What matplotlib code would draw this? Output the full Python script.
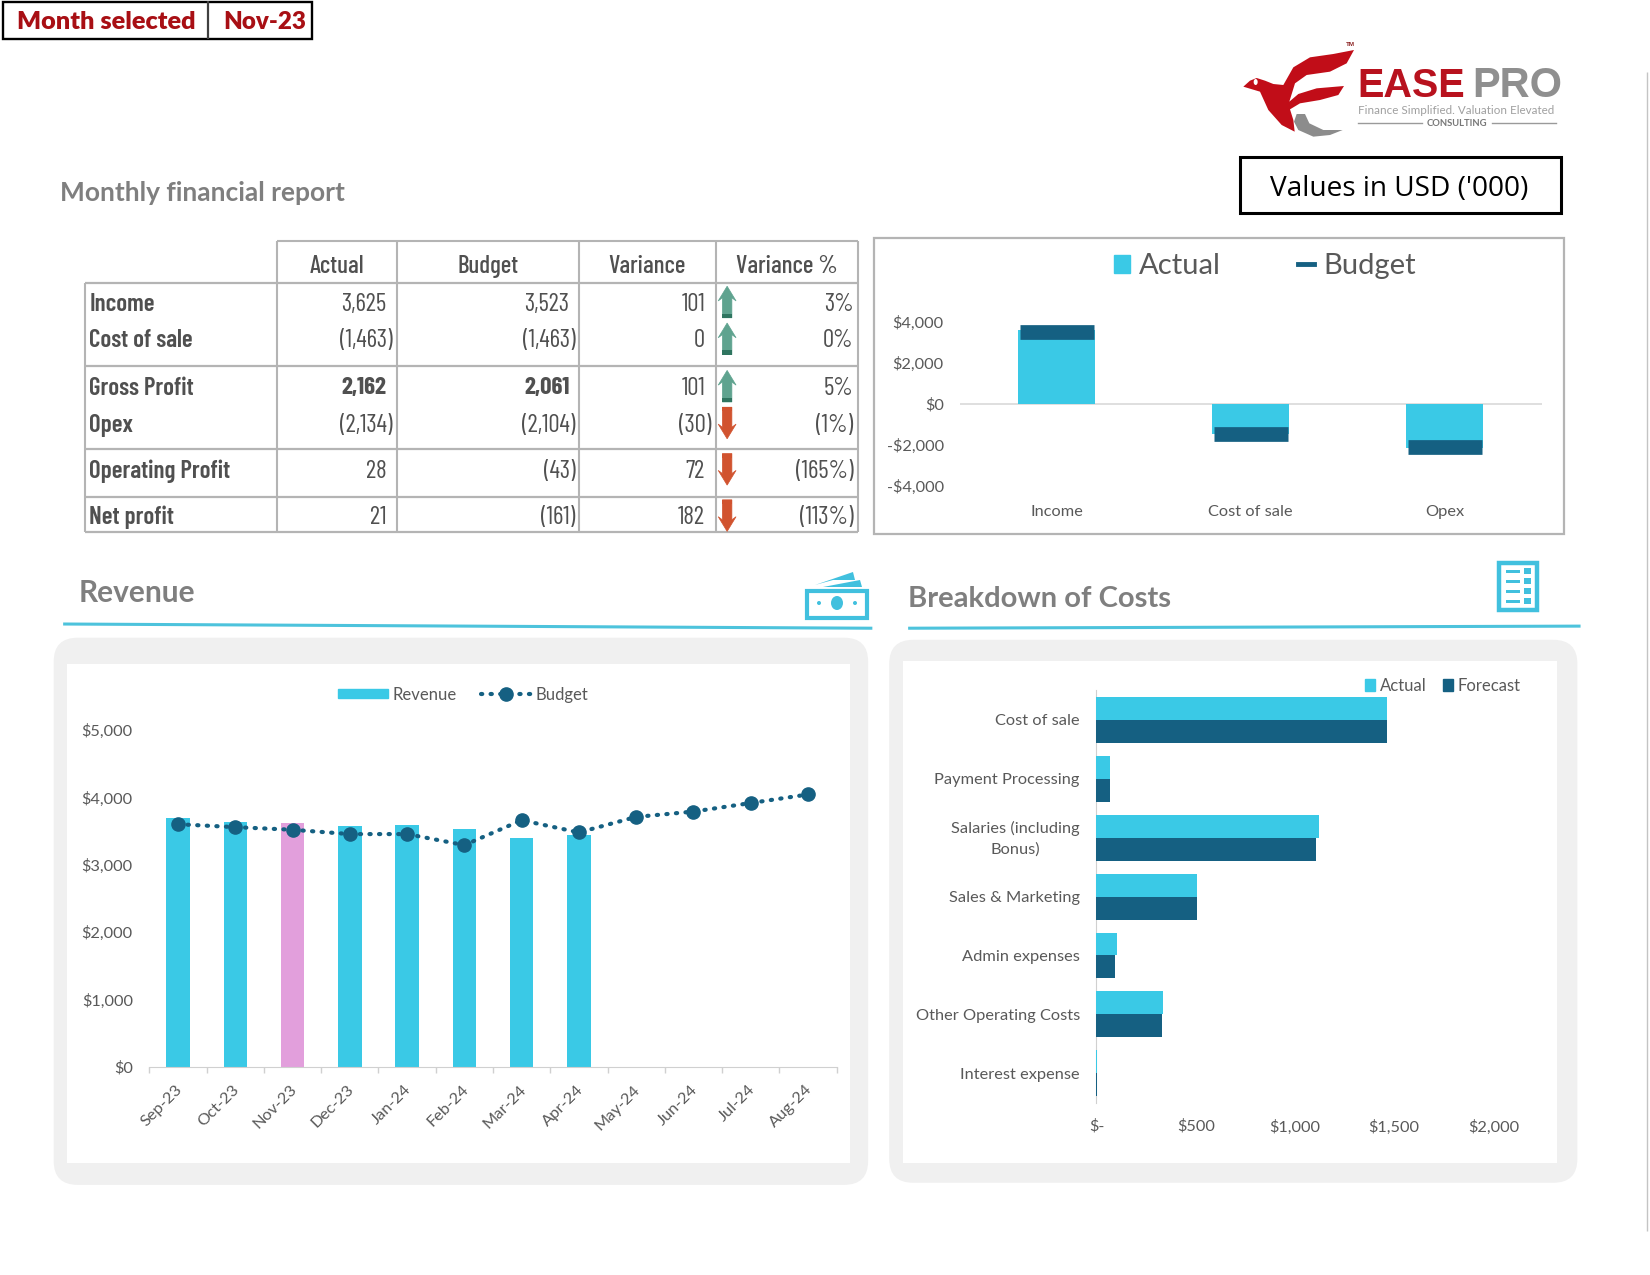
import matplotlib
matplotlib.use('Agg')
import matplotlib.pyplot as plt
from matplotlib.patches import FancyBboxPatch, Polygon, Rectangle, Ellipse, Patch
from matplotlib.lines import Line2D
from matplotlib.ticker import FixedLocator, FuncFormatter
from matplotlib.transforms import ScaledTranslation

# table
row_names = ['Income', 'Cost of sale', 'Gross Profit', 'Opex', 'Operating Profit', 'Net profit']
col_names = ['Actual', 'Budget', 'Variance', 'Variance %']
tbl_actual = ['3,625', '(1,463)', '2,162', '(2,134)', '28', '21']
tbl_budget = ['3,523', '(1,463)', '2,061', '(2,104)', '(43)', '(161)']
tbl_var = ['101', '0', '101', '(30)', '72', '182']
tbl_pct = ['3%', '0%', '5%', '(1%)', '(165%)', '(113%)']
tbl_up = [True, True, True, False, False, False]

# top right chart
summary_cats = ['Income', 'Cost of sale', 'Opex']
summary_actual = [3625, -1463, -2134]
summary_budget = [3523, -1463, -2104]
summary_ticks = [-4000, -2000, 0, 2000, 4000]

# revenue chart
months = ['Sep-23', 'Oct-23', 'Nov-23', 'Dec-23', 'Jan-24', 'Feb-24',
          'Mar-24', 'Apr-24', 'May-24', 'Jun-24', 'Jul-24', 'Aug-24']
revenue = [3695, 3635, 3625, 3574, 3598, 3532, 3398, 3440]
budget = [3605, 3562, 3523, 3459, 3459, 3295, 3665, 3483, 3714, 3793, 3920, 4047]
selected = 'Nov-23'

# costs chart
cost_cats = ['Cost of sale', 'Payment Processing', 'Salaries (including\nBonus)', 'Sales & Marketing',
             'Admin expenses', 'Other Operating Costs', 'Interest expense']
cost_actual = [1463, 69, 1119, 504, 103, 334, 5]
cost_forecast = [1463, 69, 1108, 504, 91, 331, 1]

CYAN = '#3AC9E6'
DARK = '#156082'
PINK = '#E29FDC'
GREY = '#595959'
LINE = '#B4B4B4'
RED = '#A80F14'
FONT = 'Lato'
NARROW = ['Barlow Condensed', 'Lato']
DOTS = (0, (0.3, 2.0))

W, H = 1650, 1275
S = 1650 / 1568  # I measured everything on a 1568 wide view

fig = plt.figure(figsize=(W / 100, H / 100), dpi=100)
bg = fig.add_axes([0, 0, 1, 1])
bg.set_xlim(0, W)
bg.set_ylim(H, 0)
bg.axis('off')


def chart_axes(l, t, r, b):
    ax = fig.add_axes([l * S / W, 1 - b * S / H, (r - l) * S / W, (b - t) * S / H])
    ax.patch.set_alpha(0)
    for s in ax.spines.values():
        s.set_visible(False)
    return ax


def fig_xy(x, y):
    return (x * S / W, 1 - y * S / H)


def box(l, t, r, b, ec, lw, fc='none', z=1):
    bg.add_patch(Rectangle((l * S, t * S), (r - l) * S, (b - t) * S, fc=fc, ec=ec, lw=lw, zorder=z))


def seg(x0, y0, x1, y1, c, lw):
    bg.plot([x0 * S, x1 * S], [y0 * S, y1 * S], color=c, lw=lw, solid_capstyle='butt')


def txt(x, y, s, **kw):
    kw.setdefault('va', 'center')
    kw.setdefault('family', FONT)
    bg.text(x * S, y * S, s, **kw)


def panel(l, t, r, b, il, it, ir, ib):
    bg.add_patch(FancyBboxPatch((l * S, t * S), (r - l) * S, (b - t) * S,
                                boxstyle='round,pad=0,rounding_size=24', fc='#F0F0F0', ec='none'))
    box(il, it, ir, ib, 'none', 0, fc='white', z=2)


def arrow(cx, cy, up, c, dark):
    d = 1 if up else -1
    pts = [(0, -15), (8.5, -1), (4.5, -4), (4.5, 15), (-4.5, 15), (-4.5, -4), (-8.5, -1)]
    bg.add_patch(Polygon([((cx + x) * S, (cy + d * y) * S) for x, y in pts], fc=c, ec=c, lw=0.5, zorder=3))
    ys = [(cy + d * 11) * S, (cy + d * 15) * S]
    bg.add_patch(Polygon([((cx - 4.5) * S, ys[0]), ((cx + 4.5) * S, ys[0]), ((cx + 4.5) * S, ys[1]), ((cx - 4.5) * S, ys[1])],
                         fc=dark, ec='none', zorder=4))


# month selector
box(2.5, 1.5, 296.5, 37, 'black', 1.7)
seg(198, 1, 198, 37, '#404040', 1.6)
txt(101, 21, 'Month selected', color=RED, fontsize=18.2, fontweight='heavy', ha='center')
txt(252, 21, 'Nov-23', color=RED, fontsize=17.4, fontweight='heavy', ha='center')

# logo, drawn by hand from the crop
def lg(pts):
    return [(1150 + x / 3, 20 + y / 3) for x, y in pts]


bg.add_patch(Polygon(lg([(280, 200), (300, 182), (320, 174), (345, 182), (370, 192), (400, 195), (430, 142),
                         (480, 112), (550, 102), (612, 90), (590, 130), (540, 155), (470, 165), (435, 190),
                         (418, 245), (445, 222), (500, 205), (582, 198), (565, 225), (510, 240), (450, 250),
                         (420, 268), (430, 300), (434, 335), (395, 315), (355, 270), (330, 215)]),
                     fc='#C10D18', ec='none'))
bg.add_patch(Polygon(lg([(440, 282), (465, 282), (478, 310), (520, 330), (578, 330), (540, 345), (490, 350),
                         (445, 330), (432, 305)]), fc='#8C8C8C', ec='none'))
bg.add_patch(Ellipse((1150 + 317 / 3, 20 + 186 / 3), 4, 6, fc='white', ec='none'))
bg.text(1350, 45, 'TM', fontsize=4.5, fontweight='bold', color='#8A2020', ha='center', va='center', family='Liberation Sans')
bg.text(1357, 97, 'EASE', fontsize=28.5, fontweight='bold', color='#B8121E', va='baseline', family='Liberation Sans')
bg.text(1472, 97, 'PRO', fontsize=30, fontweight='bold', color='#8F8F8F', va='baseline', family='Liberation Sans')
bg.text(1358, 111, 'Finance Simplified. Valuation Elevated', fontsize=8.4, color='#A0A0A0', va='center', family='Lato')
bg.text(1457, 123, 'CONSULTING', fontsize=6.8, fontweight='bold', color='#777777', ha='center', va='center', family='Lato')
bg.plot([1358, 1422], [123, 123], color='#9A9A9A', lw=1)
bg.plot([1492, 1556], [123, 123], color='#9A9A9A', lw=1)

box(1178, 149, 1483, 202, 'black', 2.2)
txt(1330, 180, "Values in USD ('000)", ha='center', fontsize=20.2, family='Open Sans', color='black')
txt(57, 183, 'Monthly financial report', fontsize=19, fontweight='bold', color='#7F7F7F')

# table
cols = [81, 263, 377, 550, 680, 815]
hlines = [269, 348, 427, 472, 506]
row_y = [289, 324, 369, 404, 448, 492]
seg(263, 229, 815, 229, LINE, 1.5)
for y in hlines:
    seg(81, y, 815, y, LINE, 1.6)
for i, x in enumerate(cols):
    seg(x, 229 if i else 269, x, 506, LINE, 1.5)
for i, name in enumerate(col_names):
    txt((cols[i + 1] + cols[i + 2]) / 2, 253, name, ha='center', fontsize=18, family=NARROW,
        color='#505050', fontweight='medium')
cell_right = [367, 541, 670, 811]
for i, name in enumerate(row_names):
    y = row_y[i]
    txt(85, y, name, fontsize=18, family=NARROW, color='#505050', fontweight='semibold')
    for j, vals in enumerate([tbl_actual, tbl_budget, tbl_var]):
        v = vals[i]
        x = cell_right[j] + (6 if v.endswith(')') else 0)
        weight = 'bold' if i == 2 and j < 2 else 'normal'
        txt(x, y, v, ha='right', fontsize=18, family=NARROW, color='#505050', fontweight=weight)
    txt(cell_right[3], y, tbl_pct[i], ha='right', fontsize=18, family=NARROW, color='#505050')
    if tbl_up[i]:
        arrow(691, y - 2, True, '#5FA38F', '#2F7560')
    else:
        arrow(691, y - 2, False, '#D1532F', '#D1532F')

# top right chart
box(831, 226, 1486, 507, LINE, 1.6)
ax = chart_axes(912, 306, 1465, 462)
xs = list(range(len(summary_cats)))
ax.bar(xs, summary_actual, width=0.396, color=CYAN, label='Actual')
ax.plot(xs, summary_budget, ls='none', marker='_', ms=53, mew=10.6, color=DARK, label='Budget')
ax.set_xlim(-0.5, 2.5)
ax.set_ylim(-4000, 4000)
ax.axhline(0, color='#D9D9D9', lw=1.2, zorder=0)
ax.set_yticks(summary_ticks)
ax.set_yticklabels(['-$4,000', '-$2,000', '$0', '$2,000', '$4,000'])
ax.set_xticks(xs)
ax.set_xticklabels(summary_cats)
ax.tick_params(length=0, labelcolor=GREY, labelsize=11.8)
ax.tick_params(axis='x', pad=13.5)
ax.tick_params(axis='y', pad=11.5)
for t in ax.get_xticklabels() + ax.get_yticklabels():
    t.set_family(FONT)
handles = [Patch(color=CYAN, label='Actual'),
           Line2D([], [], color=DARK, lw=3.5, label='Budget')]
fig.legend(handles=handles, loc='center', bbox_to_anchor=fig_xy(1202, 253), ncol=2, frameon=False,
           labelcolor=GREY, handlelength=0.55, handleheight=0.6, handletextpad=0.3, columnspacing=2.65,
           prop={'family': FONT, 'size': 21})

# section heads
txt(75, 564, 'Revenue', fontsize=21.5, fontweight='bold', color='#7F7F7F')
txt(863, 569, 'Breakdown of Costs', fontsize=21, fontweight='bold', color='#7F7F7F')
seg(60, 593, 829, 597, '#4DC3DC', 2.2)
seg(863, 597, 1502, 595, '#4DC3DC', 2.2)

# money icon
ICON = '#41C0DE'
bg.add_patch(Rectangle((807, 591), 60, 27, fc='white', ec=ICON, lw=3))
bg.add_patch(Polygon([(815, 585), (853, 572), (855, 580), (833, 580)], fc=ICON, ec='none'))
bg.add_patch(Polygon([(823, 587), (860, 580), (862, 587)], fc=ICON, ec='none'))
bg.add_patch(Ellipse((837, 603), 12, 14, fc=ICON, ec='none'))
bg.add_patch(Ellipse((819, 603), 4, 4, fc=ICON, ec='none'))
bg.add_patch(Ellipse((855, 603), 4, 4, fc=ICON, ec='none'))
# list icon
bg.add_patch(Rectangle((1499, 563), 38, 47, fc='white', ec=ICON, lw=3.2))
for zy in [63, 93, 123, 153]:
    bg.add_patch(Rectangle((1506, 550 + zy / 3 - 1.5), 14, 3, fc=ICON, ec='none'))
    bg.add_patch(Rectangle((1524, 550 + zy / 3 - 3), 6.5, 6, fc=ICON, ec='none'))

# revenue chart
panel(51, 606, 825, 1126, 64, 631, 808, 1105)
ax = chart_axes(142, 694, 795, 1014)
xs = list(range(len(months)))
cols_rev = [PINK if m == selected else CYAN for m in months[:len(revenue)]]
ax.bar(xs[:len(revenue)], revenue, width=0.41, color=cols_rev)
ax.plot(xs, budget, color=DARK, lw=3, ls=DOTS, marker='o', ms=9.5, dash_capstyle='round')
ax.set_xlim(-0.5, 11.5)
ax.set_ylim(0, 5000)
ax.set_yticks([0, 1000, 2000, 3000, 4000, 5000])
ax.yaxis.set_major_formatter(FuncFormatter(lambda v, p: '${:,.0f}'.format(v)))
ax.set_xticks(xs)
ax.set_xticklabels(months, rotation=45, ha='right', rotation_mode='anchor')
ax.xaxis.set_minor_locator(FixedLocator([i - 0.5 for i in range(13)]))
ax.tick_params(axis='x', which='major', length=0, pad=11)
ax.tick_params(axis='x', which='minor', length=4, color='#D0D0D0', width=1)
ax.tick_params(axis='y', length=0, pad=12)
ax.tick_params(which='major', labelcolor=GREY, labelsize=11.8)
ax.spines['bottom'].set_visible(True)
ax.spines['bottom'].set_color('#D0D0D0')
for t in ax.get_xticklabels() + ax.get_yticklabels():
    t.set_family(FONT)
shift = ScaledTranslation(-2 / 72, 0, fig.dpi_scale_trans)
for t in ax.get_xticklabels():
    t.set_transform(t.get_transform() + shift)
handles = [Patch(color=CYAN, label='Revenue'),
           Line2D([], [], color=DARK, lw=3, ls=DOTS, marker='o', ms=9.5, dash_capstyle='round', label='Budget')]
fig.legend(handles=handles, loc='center', bbox_to_anchor=fig_xy(440, 660), ncol=2, frameon=False,
           labelcolor=GREY, handlelength=3.0, handleheight=0.5, handletextpad=0.25, columnspacing=1.45,
           prop={'family': FONT, 'size': 12})

# costs chart
panel(845, 608, 1499, 1124, 858, 628, 1480, 1105)
ax = chart_axes(1042, 656, 1480, 1048)
ys = list(range(len(cost_cats)))
h = 0.39
ax.barh([y - h / 2 for y in ys], cost_actual, height=h, color=CYAN, label='Actual')
ax.barh([y + h / 2 for y in ys], cost_forecast, height=h, color=DARK, label='Forecast')
ax.set_ylim(6.5, -0.5)
ax.set_xlim(0, 438 / 94.3 * 500)
ax.set_yticks(ys)
ax.set_yticklabels(cost_cats, multialignment='center', linespacing=1.5)
ax.set_xticks([0, 500, 1000, 1500, 2000])
ax.set_xticklabels(['$-', '$500', '$1,000', '$1,500', '$2,000'])
ax.tick_params(length=0, labelcolor=GREY, labelsize=11.8)
ax.tick_params(axis='y', pad=12)
ax.tick_params(axis='x', pad=12)
ax.spines['left'].set_visible(True)
ax.spines['left'].set_color('#D0D0D0')
ax.spines['left'].set_zorder(0.5)
for t in ax.get_xticklabels() + ax.get_yticklabels():
    t.set_family(FONT)
# two line label sits a little low otherwise
sal = ax.get_yticklabels()[2]
sal.set_transform(sal.get_transform() + ScaledTranslation(0, 2.3 / 72, fig.dpi_scale_trans))
handles = [Patch(color=CYAN, label='Actual'), Patch(color=DARK, label='Forecast')]
fig.legend(handles=handles, loc='center', bbox_to_anchor=fig_xy(1371, 652), ncol=2, frameon=False,
           labelcolor=GREY, handlelength=0.6, handleheight=0.7, handletextpad=0.25, columnspacing=1.0,
           prop={'family': FONT, 'size': 12})

# sheet edge on the far right
seg(1565, 68, 1565, 1170, '#C4C4C4', 1)

plt.savefig('out.png', dpi=100)
